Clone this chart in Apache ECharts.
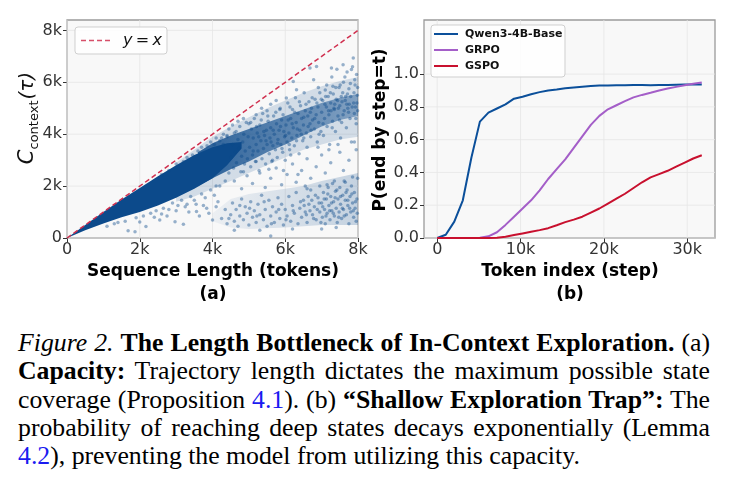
<!DOCTYPE html>
<html><head><meta charset="utf-8">
<script src="https://cdn.jsdelivr.net/npm/echarts@6/dist/echarts.min.js"></script>
<style>
html,body{margin:0;padding:0;background:#fff;width:737px;height:492px;overflow:hidden}
#chart{position:absolute;left:0;top:0;width:737px;height:310px}
.cap{position:absolute;left:18px;font-family:"Liberation Serif","Times New Roman",serif;font-size:24px;line-height:28px;white-space:nowrap;color:#000;transform-origin:0 0;display:inline-block}
.cap .ln{color:#1b1bf0}
</style></head><body>
<div id="chart"></div>
<div class="cap jf" data-b="351.7"><i>Figure 2.</i> <b>The Length Bottleneck of In-Context Exploration.</b> (a)</div>
<div class="cap jf" data-b="380"><b>Capacity:</b> Trajectory length dictates the maximum possible state</div>
<div class="cap jf" data-b="408.3">coverage (Proposition <span class="ln">4.1</span>). (b) <b>“Shallow Exploration Trap”:</b> The</div>
<div class="cap jf" data-b="436.7">probability of reaching deep states decays exponentially (Lemma</div>
<div class="cap" id="lastLine" data-b="465"><span class="ln">4.2</span>), preventing the model from utilizing this capacity.</div>
<script>
// ---------- (a) data, in thousands of tokens ----------
const xTicksA = [0, 2, 4, 6, 8];
const yTicksA = [0, 2, 4, 6, 8];
const refLine = [[0, 0], [8, 8]];
// density layers of the scatter cloud: x with low / high envelopes
const coreX  = [0, 0.5, 1.0, 1.5, 2.0, 2.5, 3.0, 3.5, 4.0, 4.4, 4.8];
const coreHi = [0, 0.5, 1.0, 1.48, 1.93, 2.38, 2.8, 3.2, 3.5, 3.65, 3.7];
const coreLo = [0, 0.3, 0.56, 0.8, 1.0, 1.25, 1.55, 1.9, 2.3, 2.8, 3.45];
const denseX  = [3.6, 4.0, 4.5, 5.0, 5.5, 6.0, 6.5, 7.0, 7.5, 8.0];
const denseHi = [3.3, 3.65, 3.95, 4.2, 4.45, 4.7, 4.95, 5.2, 5.4, 5.55];
const denseLo = [2.0, 2.3, 2.65, 2.95, 3.3, 3.6, 3.95, 4.3, 4.55, 4.7];
const hazeX  = [3.0, 3.5, 4.0, 4.5, 5.0, 5.5, 6.0, 6.5, 7.0, 7.5, 8.0];
const hazeHi = [2.9, 3.4, 3.9, 4.3, 4.65, 5.0, 5.3, 5.6, 5.85, 6.05, 6.2];
const hazeLo = [1.4, 1.6, 1.9, 2.2, 2.5, 2.8, 3.1, 3.4, 3.6, 3.8, 3.9];
const lowX  = [4.0, 4.5, 5.0, 6.0, 6.5, 7.0, 7.5, 8.0];
const lowHi = [0.95, 1.5, 1.7, 1.9, 2.0, 2.2, 2.35, 2.5];
const lowLo = [0.65, 0.4, 0.35, 0.4, 0.45, 0.5, 0.5, 0.5];
const fringePts = [[1.68,0.28],[1.87,0.24],[2.17,0.44],[2.55,0.69],[2.97,0.63],[3.2,0.53],[3.56,1.02],[3.64,0.85],[3.84,1.15],[1.3,0.55],[1.6,0.65],[1.9,0.78],[2.1,0.85],[2.3,0.95],[2.45,1.05],[2.65,1.15],[2.8,1.1],[2.9,1.35],[3.05,1.25],[3.15,1.45],[3.3,1.3],[3.4,1.6],[3.5,1.45],[3.7,1.7],[3.8,1.55],[3.95,1.85],[4.05,1.65],[4.1,2.0],[4.15,1.4],[3.75,1.25],[3.35,1.0],[2.75,0.85],[4.0,0.69],[3.9,0.95],[4.1,1.2],
 [2.6,2.45],[2.8,2.6],[3.0,2.85],[3.2,2.95],[3.3,3.1],[3.45,3.2],[3.6,3.35],[3.7,3.5],[3.85,3.55],[3.95,3.7],[4.05,3.6],[4.1,3.85],[4.2,3.75],[4.3,4.0],[4.4,3.9],[4.45,4.2],[4.55,4.35],[4.65,4.1],[4.7,4.5],[4.85,4.6],[5.0,4.4],[5.2,4.75],[5.35,5.0],[5.5,4.9],[5.6,5.15],[5.75,5.3],[5.85,4.95],
 [4.3,3.6],[4.35,2.2],[4.4,3.95],[4.45,2.5],[4.2,2.0],[4.25,3.85],[1.1,0.45],[1.4,0.6],[2.0,0.62],[2.4,0.8],[2.6,0.92],[3.0,1.05],[3.25,1.2],[3.55,1.3]];
const upperPts = [[4.52,3.1],[4.55,3.6],[4.58,2.7],[4.6,4.05],[4.63,3.3],[4.66,2.9],[4.7,3.8],[4.72,3.45],[4.75,4.3],[4.78,2.55],[4.8,3.15],[4.83,3.7],[4.86,4.0],[4.88,2.85],[4.9,3.35],[4.93,4.45],[4.96,3.05],[4.98,3.9],
 [5.02,3.5],[5.05,2.75],[5.07,4.2],[5.1,3.2],[5.12,3.85],[5.15,4.6],[5.18,2.95],[5.2,3.6],[5.23,4.05],[5.25,3.35],[5.28,2.6],[5.3,4.35],[5.33,3.75],[5.36,3.05],[5.38,4.8],[5.4,3.45],[5.43,3.95],[5.46,2.85],[5.48,4.15],[5.5,3.6],[5.53,4.5],[5.56,3.25],[5.58,3.85],[5.6,4.25],[5.63,2.95],[5.66,3.55],[5.68,4.7],[5.7,4.0],[5.73,3.4],[5.76,4.4],[5.78,3.1],[5.8,3.8],[5.83,4.15],[5.86,5.0],[5.88,3.6],[5.9,4.55],[5.93,3.3],[5.96,4.1],[5.98,3.9],
 [6.02,4.35],[6.05,3.7],[6.07,5.2],[6.1,4.05],[6.12,3.4],[6.15,4.6],[6.18,3.85],[6.2,4.95],[6.22,4.25],[6.25,3.55],[6.28,5.4],[6.3,4.45],[6.32,3.95],[6.35,4.8],[6.38,3.25],[6.4,4.15],[6.42,5.1],[6.45,4.6],[6.48,3.75],[6.5,4.35],[6.52,5.6],[6.55,4.9],[6.58,4.05],[6.6,3.5],[6.62,4.7],[6.65,5.25],[6.68,4.4],[6.7,3.9],[6.72,5.0],[6.75,4.55],[6.78,6.1],[6.8,4.2],[6.82,5.35],[6.85,4.75],[6.88,3.7],[6.9,5.05],[6.92,4.45],[6.95,5.6],[6.98,4.1],
 [7.0,4.85],[7.03,5.3],[7.05,3.95],[7.08,4.6],[7.1,5.7],[7.13,5.05],[7.15,4.3],[7.18,5.45],[7.2,4.75],[7.22,3.6],[7.25,5.2],[7.28,6.2],[7.3,4.5],[7.32,5.55],[7.35,4.95],[7.38,4.1],[7.4,5.35],[7.42,6.5],[7.45,4.7],[7.48,5.8],[7.5,5.1],[7.52,3.85],[7.55,4.45],[7.58,5.6],[7.6,6.0],[7.62,4.9],[7.65,5.3],[7.68,4.25],[7.7,6.4],[7.72,5.0],[7.75,5.75],[7.78,4.6],[7.8,5.45],[7.82,3.7],[7.85,6.6],[7.88,5.2],[7.9,4.8],[7.92,5.9],[7.95,4.4],[7.98,5.5],
 [6.86,6.61],[6.68,6.55],[6.31,5.71],[6.22,6.03],[6.03,5.39],[7.27,6.55],[7.59,6.68],[7.82,6.49],[7.87,6.94],[7.96,6.3],[7.99,4.9],[7.97,5.2],[7.93,5.05],[7.76,5.15],[7.66,5.45],[7.56,5.25],[7.46,5.0],[7.36,5.15],[7.26,4.9],
 [5.05,4.45],[5.12,3.35],[5.21,4.3],[5.27,3.9],[5.34,4.55],[5.41,4.1],[5.47,3.75],[5.52,4.7],[5.61,3.7],[5.67,4.15],[5.74,4.85],[5.79,3.65],[5.87,4.3],[5.94,4.75],[6.01,3.95],[6.08,4.55],[6.13,5.05],[6.19,4.4],[6.26,4.85],[6.33,4.2],[6.39,5.25],[6.44,4.0],[6.51,4.65],[6.57,5.15],[6.63,4.3],[6.69,4.85],[6.74,5.4],[6.81,4.6],[6.87,5.2],[6.93,4.0],[6.99,5.35],[7.04,4.4],[7.09,5.15],[7.14,5.9],[7.19,4.9],[7.24,5.6],[7.29,4.25],[7.34,5.0],[7.39,5.8],[7.44,5.3],[7.49,4.55],[7.54,5.45],[7.59,4.75],[7.64,6.2],[7.69,5.15],[7.74,4.85],[7.79,5.95],[7.84,5.05],[7.89,5.6],[7.94,4.6],[7.99,5.8],[7.91,6.1],[7.71,5.55],[7.51,5.9],[7.31,5.85],[7.11,5.45],[6.91,5.8],[6.71,4.15],[6.51,3.85],[6.31,3.75],[6.11,3.6],[5.91,3.45]];
const middlePts = [[4.6,2.2],[4.8,1.9],[4.95,2.4],[5.1,2.1],[5.3,2.5],[5.45,1.95],[5.6,2.3],[5.75,2.7],[5.9,2.05],[6.05,2.45],[6.2,2.85],[6.3,2.15],[6.45,2.6],[6.6,3.05],[6.7,2.3],[6.85,2.75],[7.0,3.2],[7.1,2.5],[7.25,2.9],[7.35,2.2],[7.5,3.3],[7.6,2.6],[7.75,3.0],[7.85,2.35],[7.95,3.4],[5.2,2.95],[5.65,3.0],[6.15,3.2],[6.9,3.5],[7.45,3.6],[7.9,3.7],[6.55,2.0],[5.95,2.6],[7.15,2.05],[4.85,2.55],[5.55,2.65],[6.35,2.45],[7.65,2.15],[7.2,3.4],[6.0,3.0]];
const lowerPts = [[4.25,0.75],[4.35,1.1],[4.4,0.55],[4.5,0.9],[4.55,1.35],[4.6,0.65],[4.65,1.1],[4.7,0.45],[4.75,0.85],[4.8,1.5],[4.85,0.7],[4.9,1.2],[4.95,0.95],[5.0,0.5],[5.05,1.4],[5.1,0.8],[5.15,1.05],[5.2,0.6],[5.25,1.3],[5.3,0.9],[5.35,1.65],[5.4,0.7],[5.45,1.1],[5.5,0.45],[5.55,1.45],[5.6,0.85],[5.6,0.08],[5.65,1.2],[5.7,0.6],[5.75,1.0],[5.8,1.55],[5.85,0.75],[5.9,1.3],[5.95,0.5],[6.0,1.1],[6.05,0.85],[6.1,1.6],[6.15,0.65],[6.2,1.25],[6.25,0.95],[6.3,1.75],[6.35,0.55],[6.4,1.15],[6.45,0.8],[6.5,1.45],[6.55,1.0],[6.6,0.6],[6.65,1.3],[6.7,1.85],[6.75,0.9],[6.8,1.2],[6.85,0.7],[6.9,1.55],[6.95,1.0],
 [7.0,1.35],[7.02,0.8],[7.05,1.75],[7.08,1.1],[7.1,0.55],[7.13,1.5],[7.15,0.95],[7.18,1.95],[7.2,1.25],[7.23,0.7],[7.25,1.6],[7.28,1.05],[7.3,2.1],[7.33,1.4],[7.35,0.85],[7.38,1.8],[7.4,1.15],[7.43,0.6],[7.45,1.5],[7.48,1.0],[7.5,1.95],[7.52,1.3],[7.55,0.75],[7.58,1.65],[7.6,1.1],[7.62,2.2],[7.65,1.45],[7.68,0.9],[7.7,1.85],[7.72,1.25],[7.75,0.55],[7.78,1.6],[7.8,1.0],[7.82,2.0],[7.85,1.35],[7.88,0.8],[7.9,1.75],[7.92,1.15],[7.95,0.65],[7.97,1.5],[7.99,2.3],[6.95,2.0],[6.6,1.9],[7.4,0.4],[7.0,0.35],[6.2,0.35],[5.3,0.3],[4.6,0.3],
 [6.52,1.25],[6.58,0.9],[6.63,1.6],[6.68,1.05],[6.73,1.45],[6.78,0.75],[6.83,1.65],[6.88,1.1],[6.93,1.35],[6.98,0.6],[7.03,1.2],[7.07,1.5],[7.12,0.85],[7.17,1.7],[7.22,1.05],[7.27,1.35],[7.32,0.95],[7.37,1.55],[7.42,1.85],[7.47,0.8],[7.52,1.6],[7.57,1.15],[7.62,0.85],[7.67,1.75],[7.72,1.45],[7.77,1.15],[7.83,1.7],[7.87,1.05],[7.93,1.4],[7.98,0.95],[5.02,1.15],[5.22,0.85],[5.42,1.4],[5.62,0.55],[5.82,1.1],[6.02,0.7],[6.22,1.05],[6.42,1.4],[4.45,0.75],[4.75,1.25]];

// ---------- (b) data ----------
const stepX = [0,1024,2048,3072,4096,5120,6144,7168,8192,9216,10240,11264,12288,13312,14336,15360,16384,17408,18432,19456,20480,21504,22528,23552,24576,25600,26624,27648,28672,29696,30720,31744];
const qwen = [0,0.02,0.10,0.23,0.49,0.71,0.765,0.79,0.815,0.85,0.862,0.877,0.89,0.90,0.906,0.913,0.918,0.923,0.928,0.930,0.931,0.932,0.932,0.933,0.933,0.932,0.933,0.934,0.935,0.936,0.937,0.937];
const grpo = [0,0,0,0,0,0.002,0.01,0.035,0.08,0.13,0.18,0.23,0.29,0.36,0.42,0.48,0.55,0.62,0.69,0.745,0.785,0.81,0.835,0.858,0.873,0.886,0.90,0.912,0.922,0.932,0.941,0.949];
const gspo = [0,0,0,0,0,0,0,0.002,0.008,0.018,0.028,0.038,0.048,0.06,0.078,0.097,0.112,0.13,0.155,0.18,0.21,0.24,0.27,0.305,0.34,0.37,0.39,0.41,0.435,0.46,0.485,0.505];
const xTicksB = [0, 10000, 20000, 30000];
const yTicksB = [0, 0.2, 0.4, 0.6, 0.8, 1.0];
const names = ['Qwen3-4B-Base', 'GRPO', 'GSPO'];
const colors = ['#0b4f9a', '#a45ec8', '#c8102e'];

const FONT = 'DejaVu Sans';
const BLUE = '#0c4a8b';
const rgba = a => 'rgba(12,74,139,' + a + ')';
const chart = echarts.init(document.getElementById('chart'), null, {renderer: 'canvas'});

// fill: opacity at left end and right end of the band (linear in x)
function band(xs, lo, hi, aLeft, aRight) {
  return {type: 'custom', xAxisIndex: 0, yAxisIndex: 0, silent: true, z: 2, data: [[xs[0], lo[0]]],
    renderItem: (p, api) => {
      const pts = [];
      for (let i = 0; i < xs.length; i++) pts.push(api.coord([xs[i], hi[i]]));
      for (let i = xs.length - 1; i >= 0; i--) pts.push(api.coord([xs[i], lo[i]]));
      const fill = new echarts.graphic.LinearGradient(0, 0, 1, 0, [{offset: 0, color: rgba(aLeft)}, {offset: 1, color: rgba(aRight)}]);
      return {type: 'polygon', shape: {points: pts}, style: {fill: fill}};
    }};
}
function gridLines(idx, xv, yv) {
  return {type: 'custom', xAxisIndex: idx, yAxisIndex: idx, silent: true, z: 1, data: [[xv[0], yv[0]]],
    renderItem: (p, api) => {
      const cs = p.coordSys; const ch = [];
      xv.forEach(v => { const c = api.coord([v, yv[0]]); ch.push({type: 'line', shape: {x1: c[0], y1: cs.y, x2: c[0], y2: cs.y + cs.height}, style: {stroke: '#e6e6e6', lineWidth: 0.8}}); });
      yv.forEach(v => { const c = api.coord([xv[0], v]); ch.push({type: 'line', shape: {x1: cs.x, y1: c[1], x2: cs.x + cs.width, y2: c[1]}, style: {stroke: '#e6e6e6', lineWidth: 0.8}}); });
      return {type: 'group', children: ch};
    }};
}
const axLabel = (vals, fmt, margin) => ({customValues: vals, formatter: fmt, color: '#333', fontSize: 16, fontFamily: FONT, margin: margin});
const axTick = (vals) => ({show: true, customValues: vals, length: 4, lineStyle: {color: '#333', width: 1}});
const fmtK = v => v === 0 ? '0' : v + 'k';
const fmtKB = v => v === 0 ? '0' : (v / 1000) + 'k';
const fmtP = v => v.toFixed(1);
const gridStyle = {show: true, backgroundColor: '#f8f8f8', borderColor: '#9a9a9a', borderWidth: 1.3};
const scatterStyle = {color: BLUE, opacity: 0.42};
const sc = (d) => ({type: 'scatter', xAxisIndex: 0, yAxisIndex: 0, z: 3, symbolSize: 3.5, itemStyle: scatterStyle, data: d, silent: true});

const option = {
  animation: false,
  textStyle: {fontFamily: FONT},
  grid: [Object.assign({left: 67, top: 20, width: 291, height: 218}, gridStyle),
         Object.assign({left: 424, top: 20, width: 291, height: 218}, gridStyle)],
  xAxis: [
    {gridIndex: 0, type: 'value', min: 0, max: 8, axisLine: {show: false, onZero: false}, splitLine: {show: false}, axisTick: axTick(xTicksA), axisLabel: axLabel(xTicksA, fmtK, 4)},
    {gridIndex: 1, type: 'value', min: -1587, max: 33331, axisLine: {show: false, onZero: false}, splitLine: {show: false}, axisTick: axTick(xTicksB), axisLabel: axLabel(xTicksB, fmtKB, 4)}
  ],
  yAxis: [
    {gridIndex: 0, type: 'value', min: 0, max: 8.4, axisLine: {show: false, onZero: false}, splitLine: {show: false}, axisTick: axTick(yTicksA), axisLabel: axLabel(yTicksA, fmtK, 5)},
    {gridIndex: 1, type: 'value', min: 0, max: 1.33, axisLine: {show: false, onZero: false}, splitLine: {show: false}, axisTick: axTick(yTicksB), axisLabel: axLabel(yTicksB, fmtP, 5)}
  ],
  series: [
    gridLines(0, xTicksA, yTicksA),
    gridLines(1, xTicksB, yTicksB),
    band(lowX, lowLo, lowHi, 0.05, 0.22),
    band(hazeX, hazeLo, hazeHi, 0.16, 0.16),
    band(denseX, denseLo, denseHi, 0.85, 0.4),
    band(coreX, coreLo, coreHi, 1, 1),
    sc(fringePts), sc(upperPts), sc(middlePts), sc(lowerPts),
    {type: 'line', name: 'y = x', xAxisIndex: 0, yAxisIndex: 0, z: 4, data: refLine, symbol: 'none', lineStyle: {color: '#d0304f', width: 1.5, type: [5, 3]}, silent: true},
    {type: 'line', name: names[0], xAxisIndex: 1, yAxisIndex: 1, z: 4, data: stepX.map((x, i) => [x, qwen[i]]), symbol: 'none', lineStyle: {color: colors[0], width: 2}},
    {type: 'line', name: names[1], xAxisIndex: 1, yAxisIndex: 1, z: 4, data: stepX.map((x, i) => [x, grpo[i]]), symbol: 'none', lineStyle: {color: colors[1], width: 2}},
    {type: 'line', name: names[2], xAxisIndex: 1, yAxisIndex: 1, z: 4, data: stepX.map((x, i) => [x, gspo[i]]), symbol: 'none', lineStyle: {color: colors[2], width: 2}}
  ],
  graphic: [
    {type: 'rect', z: 10, shape: {x: 75, y: 27, width: 92, height: 27, r: 3}, style: {fill: 'rgba(255,255,255,0.85)', stroke: '#cfcfcf', lineWidth: 1}},
    {type: 'line', z: 11, shape: {x1: 81, y1: 40.5, x2: 111, y2: 40.5}, style: {stroke: '#d0304f', lineWidth: 1.5, lineDash: [5, 3], opacity: 0.85}},
    {type: 'text', z: 11, x: 123, y: 40.5, style: {text: '{i|y} {n|=} {i|x}', verticalAlign: 'middle', align: 'left', fill: '#111',
      rich: {i: {fontStyle: 'italic', fontSize: 16, fontFamily: FONT, fill: '#111'}, n: {fontSize: 16, fontFamily: FONT, fill: '#111'}}}},
    {type: 'rect', z: 10, shape: {x: 431, y: 25, width: 134, height: 52, r: 3}, style: {fill: 'rgba(255,255,255,0.85)', stroke: '#cfcfcf', lineWidth: 1}},
    ...names.map((n, i) => ({type: 'line', z: 11, shape: {x1: 434, y1: 34 + i * 16, x2: 458, y2: 34 + i * 16}, style: {stroke: colors[i], lineWidth: 2}})),
    ...names.map((n, i) => ({type: 'text', z: 11, x: 465, y: 34.5 + i * 16, style: {text: n, fontSize: 11, fontWeight: 'bold', fontFamily: FONT, fill: '#111', verticalAlign: 'middle', align: 'left'}})),
    {type: 'text', x: 213, y: 272, style: {text: 'Sequence Length (tokens)', fontSize: 17, fontWeight: 'bold', fontFamily: FONT, fill: '#000', align: 'center', verticalAlign: 'middle'}},
    {type: 'text', x: 213, y: 295, style: {text: '(a)', fontSize: 17, fontWeight: 'bold', fontFamily: FONT, fill: '#000', align: 'center', verticalAlign: 'middle'}},
    {type: 'text', x: 570, y: 272, style: {text: 'Token index (step)', fontSize: 17, fontWeight: 'bold', fontFamily: FONT, fill: '#000', align: 'center', verticalAlign: 'middle'}},
    {type: 'text', x: 570, y: 295, style: {text: '(b)', fontSize: 17, fontWeight: 'bold', fontFamily: FONT, fill: '#000', align: 'center', verticalAlign: 'middle'}},
    {type: 'text', x: 381, y: 130, rotation: Math.PI / 2, style: {text: 'P(end by step=t)', fontSize: 17, fontWeight: 'bold', fontFamily: FONT, fill: '#000', align: 'center', verticalAlign: 'middle'}},
    {type: 'text', x: 28, y: 118, rotation: Math.PI / 2, style: {text: '{c|C}{s|context}{p|(τ)}', align: 'center', verticalAlign: 'middle', fill: '#111',
      rich: {c: {fontStyle: 'italic', fontSize: 21, fontFamily: FONT, fill: '#111', lineHeight: 26, verticalAlign: 'middle'},
             s: {fontSize: 13, fontFamily: FONT, fill: '#111', lineHeight: 13, verticalAlign: 'bottom', padding: [0, 1, 0, 0]},
             p: {fontStyle: 'italic', fontSize: 20, fontFamily: FONT, fill: '#111', lineHeight: 26, verticalAlign: 'middle'}}}}
  ]
};
chart.setOption(option);

// caption: size the font so the last (unjustified) line has the reference width, then justify others
const TARGET = 692, LAST_W = 562, LH = 28;
const last = document.getElementById('lastLine');
const w0 = last.getBoundingClientRect().width;
const fs = Math.max(20, Math.min(28, 24 * LAST_W / w0));
document.querySelectorAll('.cap').forEach(el => {
  el.style.fontSize = fs + 'px';
  const b = parseFloat(el.dataset.b);
  el.style.top = (b - (0.891 * fs + (LH - 1.107 * fs) / 2)) + 'px';
});
document.querySelectorAll('.cap.jf').forEach(el => {
  el.style.wordSpacing = '0px';
  const w = el.getBoundingClientRect().width;
  const n = (el.textContent.match(/ /g) || []).length;
  if (w <= TARGET) { el.style.wordSpacing = ((TARGET - w) / n) + 'px'; }
  else { el.style.transform = 'scaleX(' + (TARGET / w) + ')'; }
});
</script>
</body></html>
